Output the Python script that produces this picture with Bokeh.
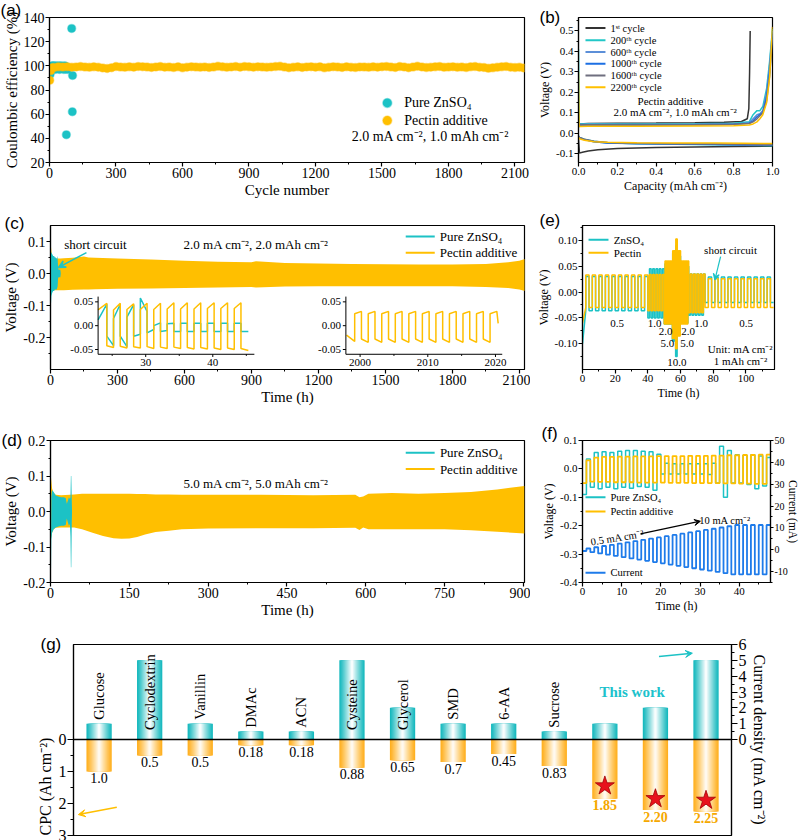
import math
from bokeh.plotting import figure
from bokeh.models import (Range1d, LinearAxis, FixedTicker, SingleIntervalTicker,
                          NumeralTickFormatter, Arrow, VeeHead, Span, Title)
from bokeh.layouts import column, row
from bokeh.embed import file_html
from bokeh.resources import INLINE
from bokeh.core.properties import value

SERIF = "Liberation Serif"
SANS = "Liberation Sans"
CYAN = "#1CC2C5"
ORANGE = "#FFBF00"
BLUE = "#1E7BEA"

# ---------------- data (a) Coulombic efficiency ----------------
a_zn_cycle = [1, 3, 6, 9, 12, 15, 18, 21, 25, 29, 33, 37, 41, 45, 49, 53, 57, 61, 65, 69, 73, 77, 80, 76, 100, 104, 103]
a_zn_ce = [94, 93, 97, 99, 100, 98, 100, 99, 97, 100, 99, 98, 100, 97, 99, 100, 98, 99, 97, 100, 98, 99, 97, 43, 131, 92, 62]
a_pec_cycle = [1, 5, 10] + list(range(20, 2141, 20))
a_pec_ce = [88, 96, 98.5,
            98.6, 99.2, 99.0, 99.3, 98.9, 99.1, 99.4, 99.0, 98.8, 99.2,
            98.9, 98.3, 97.8, 98.5, 99.4, 99.0, 98.8, 99.2, 98.9, 99.5,
            99.3, 99.0, 98.7, 99.1, 99.4, 98.9, 99.0, 98.6, 99.2, 98.4,
            98.9, 99.3, 99.0, 98.8, 99.1, 98.7, 99.0, 99.6, 99.2, 98.8,
            99.1, 99.4, 98.9, 99.5, 99.2, 98.9, 99.3, 99.0, 98.8, 99.1,
            99.4, 99.6, 99.0, 98.5, 98.8, 99.2, 98.7, 99.1, 99.3, 98.9,
            99.2, 98.4, 98.8, 99.3, 99.0, 98.7, 99.2, 98.9, 98.6, 99.1,
            99.0, 98.8, 99.2, 98.9, 99.3, 99.5, 99.0, 98.7, 99.4, 99.1,
            98.5, 99.0, 99.6, 99.1, 98.6, 98.9, 99.2, 99.5, 98.8, 99.0,
            99.3, 98.8, 99.0, 98.6, 99.2, 99.4, 98.9, 98.7, 97.9, 98.4,
            98.8, 99.2, 99.5, 98.9, 98.6, 98.9, 98.3]

# ---------------- data (b) voltage profiles ----------------
b_names = ["1ˢᵗ cycle", "200ᵗʰ cycle", "600ᵗʰ cycle", "1000ᵗʰ cycle", "1600ᵗʰ cycle", "2200ᵗʰ cycle"]
b_colors = ["#333333", "#22C7C7", "#5C8FD8", "#1C6FE3", "#6F6F7F", "#FFC000"]
b_strip_cap_1 = [0.0, 0.005, 0.05, 0.2, 0.4, 0.6, 0.75, 0.84, 0.87, 0.878, 0.882, 0.885]
b_strip_v_1 = [0.030, 0.045, 0.047, 0.048, 0.049, 0.051, 0.053, 0.057, 0.070, 0.120, 0.300, 0.500]
b_plate_cap_1 = [0.0, 0.005, 0.02, 0.05, 0.1, 0.2, 0.4, 0.6, 0.8, 1.0]
b_plate_v_1 = [-0.030, -0.098, -0.094, -0.088, -0.082, -0.076, -0.071, -0.068, -0.066, -0.064]
b_strip_cap = [0.0, 0.003, 0.05, 0.3, 0.6, 0.8, 0.88, 0.9, 0.92, 0.935, 0.95, 0.97, 0.985, 1.0]
b_strip_v = [
    [0.410, 0.045, 0.046, 0.045, 0.046, 0.048, 0.055, 0.090, 0.110, 0.110, 0.130, 0.220, 0.350, 0.510],
    [0.040, 0.042, 0.043, 0.042, 0.043, 0.045, 0.050, 0.070, 0.090, 0.095, 0.110, 0.200, 0.330, 0.500],
    [0.035, 0.040, 0.041, 0.040, 0.041, 0.043, 0.048, 0.060, 0.080, 0.090, 0.100, 0.180, 0.300, 0.480],
    [0.035, 0.040, 0.041, 0.040, 0.041, 0.043, 0.047, 0.055, 0.070, 0.085, 0.100, 0.160, 0.280, 0.460],
    [0.300, 0.032, 0.034, 0.034, 0.035, 0.036, 0.040, 0.045, 0.055, 0.070, 0.090, 0.150, 0.270, 0.520],
]
b_plate_cap = [0.0, 0.005, 0.03, 0.08, 0.15, 0.3, 0.5, 0.7, 0.85, 1.0]
b_plate_v = [
    [-0.015, -0.022, -0.030, -0.040, -0.047, -0.052, -0.055, -0.057, -0.059, -0.062],
    [-0.015, -0.022, -0.032, -0.042, -0.048, -0.052, -0.054, -0.056, -0.058, -0.060],
    [-0.015, -0.022, -0.032, -0.042, -0.048, -0.051, -0.053, -0.055, -0.057, -0.058],
    [-0.015, -0.021, -0.030, -0.040, -0.046, -0.050, -0.052, -0.054, -0.056, -0.057],
    [-0.020, -0.028, -0.035, -0.042, -0.045, -0.047, -0.048, -0.049, -0.050, -0.051],
]

# ---------------- data (c) 2 mA cm-2 long cycling (envelopes) ----------------
c_t = [0, 3, 5, 8, 15, 30, 45, 60, 100, 150, 170, 200, 300, 450, 600, 750, 900, 920, 1050, 1200, 1350, 1500, 1650, 1800, 1950, 2050, 2100, 2125]
c_top = [0.02, 0.083, 0.060, 0.050, 0.048, 0.047, 0.047, 0.048, 0.049, 0.053, 0.050, 0.049, 0.047, 0.044, 0.040, 0.037, 0.035, 0.038, 0.033, 0.031, 0.030, 0.029, 0.028, 0.028, 0.030, 0.035, 0.040, 0.045]
c_bot = [-0.02, -0.060, -0.055, -0.052, -0.052, -0.052, -0.052, -0.052, -0.051, -0.050, -0.050, -0.049, -0.048, -0.047, -0.045, -0.044, -0.042, -0.044, -0.041, -0.040, -0.040, -0.040, -0.040, -0.040, -0.042, -0.045, -0.050, -0.055]
c_zn_t = [0, 1, 2, 4, 8, 12, 16, 20, 24, 28, 30, 32, 34, 36, 40, 44, 46]
c_zn_top = [0.0, 0.060, 0.068, 0.065, 0.060, 0.055, 0.055, 0.050, 0.050, 0.045, 0.055, 0.045, 0.020, 0.012, 0.012, 0.012, 0.0]
c_zn_bot = [-0.05, -0.170, -0.100, -0.070, -0.060, -0.055, -0.055, -0.050, -0.050, -0.050, -0.045, -0.040, -0.015, -0.012, -0.012, -0.012, 0.0]
# inset 1 (23-46 h): half-cycle edges and start/end voltages
c_in1_edges = [22.9, 24.2, 25.2, 26.2, 27.2, 28.2, 29.2, 30.2, 31.2, 32.2, 33.2, 34.2, 35.2, 36.2, 37.2, 38.2, 39.2, 40.2, 41.2, 42.2, 43.2, 44.2, 45.3]
c_in1_pec_s = [0.033, -0.042, 0.033, -0.043, 0.034, -0.044, 0.034, -0.044, 0.034, -0.045, 0.035, -0.045, 0.035, -0.046, 0.035, -0.046, 0.036, -0.047, 0.036, -0.047, 0.036, -0.048]
c_in1_pec_e = [0.047, -0.046, 0.047, -0.047, 0.046, -0.047, 0.047, -0.048, 0.047, -0.048, 0.048, -0.048, 0.048, -0.049, 0.048, -0.049, 0.048, -0.050, 0.048, -0.050, 0.048, -0.052]
c_in1_zn_s = [0.012, -0.022, 0.015, -0.022, 0.018, -0.022, 0.058, -0.015, 0.000, -0.012, 0.004, -0.012, 0.005, -0.012, 0.005, -0.012, 0.005, -0.012, 0.005, -0.012, 0.005, -0.012]
c_in1_zn_e = [0.045, -0.042, 0.045, -0.044, 0.044, -0.018, 0.030, -0.008, 0.006, -0.010, 0.005, -0.012, 0.005, -0.012, 0.005, -0.012, 0.005, -0.012, 0.005, -0.012, 0.005, -0.012]
# inset 2 (1998-2021 h)
c_in2_edges = [1998.0, 1999.2, 2000.2, 2001.2, 2002.2, 2003.2, 2004.2, 2005.2, 2006.2, 2007.2, 2008.2, 2009.2, 2010.2, 2011.2, 2012.2, 2013.2, 2014.2, 2015.2, 2016.2, 2017.2, 2018.2, 2019.2, 2020.2, 2020.4]
c_in2_pec_s = [-0.020, 0.025, -0.028, 0.025, -0.028, 0.025, -0.028, 0.025, -0.028, 0.025, -0.028, 0.025, -0.028, 0.025, -0.028, 0.025, -0.028, 0.025, -0.028, 0.025, -0.028, 0.025, 0.030]
c_in2_pec_e = [-0.033, 0.030, -0.035, 0.030, -0.035, 0.030, -0.035, 0.030, -0.035, 0.030, -0.035, 0.030, -0.035, 0.030, -0.035, 0.030, -0.035, 0.030, -0.035, 0.030, -0.035, 0.030, 0.005]

# ---------------- data (d) 5 mA cm-2 (envelopes) ----------------
d_t = [0, 1, 3, 6, 10, 20, 45, 60, 80, 100, 120, 135, 150, 165, 180, 200, 225, 250, 300, 400, 500, 580, 588, 595, 605, 650, 700, 750, 800, 850, 902]
d_top = [0.02, 0.095, 0.065, 0.052, 0.047, 0.046, 0.048, 0.050, 0.050, 0.050, 0.050, 0.050, 0.050, 0.049, 0.049, 0.048, 0.048, 0.047, 0.047, 0.047, 0.046, 0.047, 0.040, 0.042, 0.050, 0.052, 0.050, 0.052, 0.055, 0.062, 0.072]
d_bot = [-0.02, -0.075, -0.060, -0.050, -0.046, -0.045, -0.045, -0.050, -0.060, -0.069, -0.075, -0.077, -0.076, -0.072, -0.065, -0.058, -0.054, -0.050, -0.048, -0.047, -0.047, -0.046, -0.052, -0.045, -0.050, -0.050, -0.050, -0.050, -0.053, -0.057, -0.062]
d_zn_t = [0, 0.8, 1.5, 3, 6, 10, 15, 20, 25, 29, 31, 33, 35, 37, 38, 38.8, 39.6, 40.5, 41]
d_zn_top = [-0.2, -0.1, 0.04, 0.06, 0.055, 0.045, 0.042, 0.040, 0.040, 0.038, 0.022, 0.030, 0.040, 0.035, 0.040, 0.100, 0.100, 0.030, 0.0]
d_zn_bot = [-0.2, -0.2, -0.08, -0.06, -0.05, -0.045, -0.042, -0.040, -0.040, -0.038, -0.020, -0.030, -0.040, -0.035, -0.070, -0.157, -0.157, -0.030, 0.0]

# ---------------- data (e) rate test ----------------
e_rate = [0.5, 1.0, 2.0, 5.0, 10.0, 5.0, 2.0, 1.0, 0.5]
e_rate_lbl = ["0.5", "1.0", "2.0", "5.0", "10.0", "5.0", "2.0", "1.0", "0.5"]
e_halves = [20, 10, 10, 10, 10, 10, 10, 10, 21]
e_pec_pos = [0.033, 0.034, 0.060, 0.080, 0.103, 0.080, 0.060, 0.035, 0.026]
e_pec_neg = [-0.030, -0.036, -0.062, -0.090, -0.110, -0.085, -0.062, -0.040, -0.030]
e_zn_pos = [0.030, 0.045, 0.055, 0.075, 0.090, 0.070, 0.050, 0.035, 0.029]
e_zn_neg = [-0.036, -0.050, -0.062, -0.095, -0.125, -0.080, -0.060, -0.045, -0.020]
e_pec_v0 = -0.060
e_zn_v0 = -0.100

# ---------------- data (f) increasing current ----------------
f_cur_ma = [0.57, 1.13, 1.70, 2.26, 2.83, 3.39, 3.96, 4.52, 5.09, 5.65, 6.22, 6.79, 7.35, 7.92, 8.48, 9.05, 9.61, 10.18, 10.74, 11.31, 11.31, 11.31, 11.31, 11.31]
f_pec_pos = [0.030, 0.040, 0.042, 0.042, 0.043, 0.043, 0.044, 0.044, 0.044, 0.045, 0.045, 0.045, 0.045, 0.046, 0.046, 0.046, 0.047, 0.047, 0.048, 0.048, 0.049, 0.049, 0.050, 0.050]
f_pec_neg = [-0.050, -0.045, -0.046, -0.046, -0.047, -0.047, -0.047, -0.048, -0.048, -0.048, -0.048, -0.049, -0.049, -0.049, -0.050, -0.050, -0.050, -0.050, -0.051, -0.051, -0.052, -0.052, -0.053, -0.053]
f_zn_pos = [0.035, 0.058, 0.060, 0.058, 0.062, 0.065, 0.065, 0.062, 0.060, 0.052, 0.020, 0.018, 0.018, 0.018, 0.018, 0.018, 0.020, 0.080, 0.065, 0.050, 0.048, 0.050, 0.045, 0.040]
f_zn_neg = [-0.090, -0.065, -0.070, -0.065, -0.070, -0.065, -0.068, -0.062, -0.065, -0.075, -0.018, -0.018, -0.018, -0.018, -0.018, -0.018, -0.020, -0.050, -0.100, -0.050, -0.050, -0.055, -0.070, -0.060]

# ---------------- data (g) comparison ----------------
g_names = ["Glucose", "Cyclodextrin", "Vanillin", "DMAc", "ACN", "Cysteine", "Glycerol", "SMD", "6-AA", "Sucrose", "", "", ""]
g_cd = [1, 5, 1, 0.5, 0.5, 5, 2, 1, 1, 0.5, 1, 2, 5]
g_cpc = [1.0, 0.5, 0.5, 0.18, 0.18, 0.88, 0.65, 0.7, 0.45, 0.83, 1.85, 2.20, 2.25]
g_cpc_txt = ["1.0", "0.5", "0.5", "0.18", "0.18", "0.88", "0.65", "0.7", "0.45", "0.83", "1.85", "2.20", "2.25"]
g_this = [False] * 10 + [True] * 3
g_star_cpc = [1.45, 1.85, 1.90]


# ================= helpers =================
def mkfig(w, h, xr, yr, bl, br, bt, bb, **kw):
    p = figure(width=w, height=h, x_range=Range1d(*xr), y_range=Range1d(*yr),
               output_backend="svg", toolbar_location=None, title=None,
               min_border_left=bl, min_border_right=br, min_border_top=bt,
               min_border_bottom=bb, **kw)
    p.xgrid.visible = False
    p.ygrid.visible = False
    p.outline_line_color = "black"
    p.outline_line_width = 1.2
    p.outline_line_alpha = 1.0
    return p


def sty(ax, tick_fs, lab_fs, tick_out=4):
    ax.axis_line_color = "black"
    ax.axis_line_width = 1.2
    ax.major_tick_line_color = "black"
    ax.major_tick_line_width = 1.2
    ax.minor_tick_line_color = "black"
    ax.minor_tick_line_width = 1.0
    ax.major_tick_in = 0
    ax.major_tick_out = tick_out
    ax.minor_tick_in = 0
    ax.minor_tick_out = 2
    ax.major_label_text_font = SERIF
    ax.major_label_text_font_size = f"{tick_fs}px"
    ax.major_label_text_color = "black"
    ax.axis_label_text_font = SERIF
    ax.axis_label_text_font_size = f"{lab_fs}px"
    ax.axis_label_text_font_style = "normal"
    ax.axis_label_text_color = "black"
    ax.major_label_standoff = 1
    ax.axis_label_standoff = 1


def txt(p, x, y, s, size, align="left", baseline="middle", color="black",
        style="normal", angle=0.0, font=SERIF, **kw):
    p.text(x=[x], y=[y], text=[s], text_font=value(font), text_font_size=value(f"{size}px"),
           text_align=align, text_baseline=baseline, text_color=color,
           text_font_style=style, angle=angle, **kw)


def panel_label(p, s, dx, frame_top, want_bottom):
    so = -2 * (want_bottom - frame_top)
    so = min(max(so, -18), -4)
    p.add_layout(Title(text=s, align="left", offset=dx, standoff=so, vertical_align="bottom",
                       text_font=SANS, text_font_size="17px", text_font_style="normal",
                       text_color="black"), "above")


def halfwave(edges, vstart, vend):
    xs, ys = [], []
    for i in range(len(vstart)):
        xs += [edges[i], edges[i + 1]]
        ys += [vstart[i], vend[i]]
    return xs, ys


def rate_wave(rates, halves, pos, neg, v0, cap=1.0):
    xs, ys = [], []
    t = 0.0
    for r, n, vp, vn in zip(rates, halves, pos, neg):
        dt = cap / r
        for k in range(n):
            v = vn if k % 2 == 0 else vp
            ys += [v0 if not xs else v, v]
            xs += [t, t + dt]
            t += dt
    return xs, ys


def cycle_wave(neg, pos, half=1.0):
    xs, ys = [], []
    t = 0.0
    for vn, vp in zip(neg, pos):
        for v in (vn, vp):
            xs += [t, t + half]
            ys += [v, v]
            t += half
    return xs, ys


def inset_axes(sub, x0, x1, y0, y1, xmaj, xmin, ymaj, dx, dy, xfmt, yfmt):
    sub.line([x0, x0, x1], [y1, y0, y0], line_color="black", line_width=1.0)
    sub.segment(x0=xmaj, y0=[y0] * len(xmaj), x1=xmaj, y1=[y0 - dy] * len(xmaj), line_color="black", line_width=1.0)
    sub.segment(x0=xmin, y0=[y0] * len(xmin), x1=xmin, y1=[y0 - dy * 0.6] * len(xmin), line_color="black", line_width=1.0)
    sub.segment(x0=[x0] * len(ymaj), y0=ymaj, x1=[x0 - dx] * len(ymaj), y1=ymaj, line_color="black", line_width=1.0)
    sub.text(x=xmaj, y=[y0 - dy * 1.6] * len(xmaj), text=[xfmt(v) for v in xmaj],
             text_font=value(SERIF), text_font_size=value("11px"), text_align="center", text_baseline="top")
    sub.text(x=[x0 - dx * 1.6] * len(ymaj), y=ymaj, text=[yfmt(v) for v in ymaj],
             text_font=value(SERIF), text_font_size=value("11px"), text_align="right", text_baseline="middle")


# ================= (a) =================
pa = mkfig(530, 210, (0, 2143), (20, 140), 49, 6, 16, 43)
pa.xaxis.ticker = SingleIntervalTicker(interval=300, num_minor_ticks=2)
pa.yaxis.ticker = SingleIntervalTicker(interval=20, num_minor_ticks=2)
pa.xaxis.axis_label = "Cycle number"
pa.yaxis.axis_label = "Coulombic efficiency (%)"
for ax in pa.axis:
    sty(ax, 14, 15)
pa.scatter(a_zn_cycle, a_zn_ce, size=8, fill_color=CYAN, line_color=CYAN, line_alpha=0.4, line_width=1.5)
pa.scatter(a_pec_cycle, a_pec_ce, size=8, fill_color=ORANGE, line_color=ORANGE, line_alpha=0.4, line_width=1.5)
pa.scatter([1524], [69.3], size=9, fill_color=CYAN, line_color=CYAN, line_alpha=0.4, line_width=1.5)
pa.scatter([1524], [54.7], size=9, fill_color=ORANGE, line_color=ORANGE, line_alpha=0.4, line_width=1.5)
txt(pa, 1600, 69.3, "Pure ZnSO₄", 14)
txt(pa, 1600, 54.7, "Pectin additive", 14)
txt(pa, 1719, 41.5, "2.0 mA cm⁻², 1.0 mAh cm⁻²", 14, align="center")
panel_label(pa, "(a)", -49, 16, 18)

# ================= (b) =================
pb = mkfig(270, 210, (0, 1.0), (-0.144, 0.566), 48, 28, 16, 48)
pb.xaxis.ticker = FixedTicker(ticks=[0, 0.2, 0.4, 0.6, 0.8, 1.0], minor_ticks=[0.1, 0.3, 0.5, 0.7, 0.9])
pb.yaxis.ticker = FixedTicker(ticks=[-0.1, 0, 0.1, 0.2, 0.3, 0.4, 0.5],
                              minor_ticks=[-0.05, 0.05, 0.15, 0.25, 0.35, 0.45, 0.55])
pb.xaxis.formatter = NumeralTickFormatter(format="0.0")
pb.yaxis.formatter = NumeralTickFormatter(format="0.0")
pb.xaxis.axis_label = "Capacity (mAh cm⁻²)"
pb.yaxis.axis_label = "Voltage (V)"
for ax in pb.axis:
    sty(ax, 11, 12)
pb.line(b_plate_cap_1, b_plate_v_1, line_color=b_colors[0], line_width=1.5)
pb.line(b_strip_cap_1, b_strip_v_1, line_color=b_colors[0], line_width=1.5)
for i in range(5):
    pb.line(b_plate_cap, b_plate_v[i], line_color=b_colors[i + 1], line_width=1.5)
    pb.line(b_strip_cap, b_strip_v[i], line_color=b_colors[i + 1], line_width=1.5)
b_leg_y = [0.514, 0.454, 0.397, 0.339, 0.282, 0.225]
for i in range(6):
    pb.line([0.036, 0.139], [b_leg_y[i]] * 2, line_color=b_colors[i], line_width=2)
    txt(pb, 0.165, b_leg_y[i], b_names[i], 10.5)
txt(pb, 0.474, 0.157, "Pectin additive", 11, align="center")
txt(pb, 0.50, 0.104, "2.0 mA cm⁻², 1.0 mAh cm⁻²", 11, align="center")
panel_label(pb, "(b)", -39, 16, 31)

# ================= (c) =================
pc = mkfig(530, 210, (0, 2123), (-0.3, 0.15), 49, 6, 12, 40)
pc.xaxis.ticker = SingleIntervalTicker(interval=300, num_minor_ticks=2)
pc.yaxis.ticker = SingleIntervalTicker(interval=0.1, num_minor_ticks=2)
pc.yaxis.formatter = NumeralTickFormatter(format="0.0")
pc.xaxis.axis_label = "Time (h)"
pc.yaxis.axis_label = "Voltage (V)"
for ax in pc.axis:
    sty(ax, 14, 15)
pc.varea(x=c_t, y1=c_bot, y2=c_top, fill_color=ORANGE)
pc.varea(x=c_zn_t, y1=c_zn_bot, y2=c_zn_top, fill_color=CYAN)
pc.line([1591, 1721], [0.1158, 0.1158], line_color=CYAN, line_width=2)
pc.line([1591, 1721], [0.0646, 0.0646], line_color=ORANGE, line_width=2)
txt(pc, 1743, 0.1158, "Pure ZnSO₄", 13)
txt(pc, 1743, 0.0646, "Pectin additive", 13)
txt(pc, 921, 0.090, "2.0 mA cm⁻², 2.0 mAh cm⁻²", 13, align="center")
txt(pc, 201, 0.091, "short circuit", 13, align="center")
pc.add_layout(Arrow(end=VeeHead(size=7, line_color=CYAN, fill_color=CYAN, line_width=1.5),
                    x_start=161, y_start=0.0654, x_end=36, y_end=0.019,
                    line_color=CYAN, line_width=1.5))
# inset 1
s1 = pc.subplot(x_source=Range1d(22.9, 46.2), y_source=Range1d(-0.06, 0.061),
                x_target=Range1d(213.2, 913.1), y_target=Range1d(-0.2524, -0.0722))
xs, ys = halfwave(c_in1_edges, c_in1_zn_s, c_in1_zn_e)
s1.line(xs, ys, line_color=CYAN, line_width=1.5)
xs, ys = halfwave(c_in1_edges, c_in1_pec_s, c_in1_pec_e)
s1.line(xs, ys, line_color=ORANGE, line_width=1.5)
inset_axes(s1, 22.9, 46.2, -0.06, 0.061, [30, 40], [25, 35, 45], [-0.05, 0.0, 0.05],
           0.45, 0.0057, lambda v: f"{v:.0f}", lambda v: f"{v:.2f}")
# inset 2
s2 = pc.subplot(x_source=Range1d(1997.9, 2021.0), y_source=Range1d(-0.06, 0.061),
                x_target=Range1d(1323.0, 2023.3), y_target=Range1d(-0.2524, -0.0722))
xs, ys = halfwave(c_in2_edges, c_in2_pec_s, c_in2_pec_e)
s2.line(xs, ys, line_color=ORANGE, line_width=1.5)
inset_axes(s2, 1997.9, 2021.0, -0.06, 0.061, [2000, 2010, 2020], [2005, 2015], [-0.05, 0.0, 0.05],
           0.45, 0.0057, lambda v: f"{v:.0f}", lambda v: f"{v:.2f}")
panel_label(pc, "(c)", -46, 12, 19)

# ================= (e) =================
pe = mkfig(270, 210, (0, 117.5), (-0.15, 0.129), 52, 26, 15, 51)
pe.xaxis.ticker = SingleIntervalTicker(interval=20, num_minor_ticks=2)
pe.yaxis.ticker = SingleIntervalTicker(interval=0.05, num_minor_ticks=2)
pe.yaxis.formatter = NumeralTickFormatter(format="0.00")
pe.xaxis.axis_label = "Time (h)"
pe.yaxis.axis_label = "Voltage (V)"
for ax in pe.axis:
    sty(ax, 11, 12)
xs, ys = rate_wave(e_rate, e_halves, e_zn_pos, e_zn_neg, e_zn_v0)
pe.line(xs, ys, line_color=CYAN, line_width=1.5)
xs, ys = rate_wave(e_rate, e_halves, e_pec_pos, e_pec_neg, e_pec_v0)
pe.line(xs, ys, line_color=ORANGE, line_width=1.5)
pe.line([3.7, 15.9], [0.1013, 0.1013], line_color=CYAN, line_width=2)
pe.line([3.7, 15.9], [0.0761, 0.0761], line_color=ORANGE, line_width=2)
txt(pe, 19.2, 0.1013, "ZnSO₄", 11)
txt(pe, 19.2, 0.0761, "Pectin", 11)
e_lbl_t = [21.2, 44.2, 50.8, 52.0, 57.8, 64.1, 64.6, 72.6, 100.2]
e_lbl_v = [-0.0603, -0.0603, -0.0764, -0.1002, -0.137, -0.1002, -0.0764, -0.0603, -0.0603]
for t, v, s in zip(e_lbl_t, e_lbl_v, e_rate_lbl):
    txt(pe, t, v, s, 11, align="center")
txt(pe, 90.6, 0.0806, "short circuit", 11, align="center")
pe.add_layout(Arrow(end=VeeHead(size=6, line_color=CYAN, fill_color=CYAN, line_width=1.2),
                    x_start=84.5, y_start=0.0689, x_end=81.0, y_end=0.0238,
                    line_color=CYAN, line_width=1.2))
txt(pe, 96.7, -0.110, "Unit: mA cm⁻²", 11, align="center")
txt(pe, 96.7, -0.1326, "1 mAh cm⁻²", 11, align="center")
panel_label(pe, "(e)", -43, 15, 19)

# ================= (d) =================
pd_ = mkfig(530, 215, (0, 902), (-0.2, 0.2), 49, 6, 13, 43)
pd_.xaxis.ticker = SingleIntervalTicker(interval=150, num_minor_ticks=2)
pd_.yaxis.ticker = SingleIntervalTicker(interval=0.1, num_minor_ticks=2)
pd_.yaxis.formatter = NumeralTickFormatter(format="0.0")
pd_.xaxis.axis_label = "Time (h)"
pd_.yaxis.axis_label = "Voltage (V)"
for ax in pd_.axis:
    sty(ax, 14, 15)
pd_.varea(x=d_t, y1=d_bot, y2=d_top, fill_color=ORANGE)
pd_.varea(x=d_zn_t, y1=d_zn_bot, y2=d_zn_top, fill_color=CYAN)
pd_.line([676, 731], [0.1655, 0.1655], line_color=CYAN, line_width=2)
pd_.line([676, 731], [0.1195, 0.1195], line_color=ORANGE, line_width=2)
txt(pd_, 741, 0.1655, "Pure ZnSO₄", 13)
txt(pd_, 741, 0.1195, "Pectin additive", 13)
txt(pd_, 391, 0.0792, "5.0 mA cm⁻², 5.0 mAh cm⁻²", 13, align="center")
panel_label(pd_, "(d)", -49, 13, 25)

# ================= (f) =================
pf = mkfig(270, 215, (0, 48.0), (-0.4, 0.1), 52, 30, 20, 53)
pf.extra_y_ranges = {"cur": Range1d(-15, 50)}
pf.xaxis.ticker = SingleIntervalTicker(interval=10, num_minor_ticks=2)
pf.yaxis.ticker = SingleIntervalTicker(interval=0.1, num_minor_ticks=2)
pf.yaxis.formatter = NumeralTickFormatter(format="0.0")
pf.xaxis.axis_label = "Time (h)"
pf.yaxis.axis_label = "Voltage (V)"
rax = LinearAxis(y_range_name="cur", ticker=SingleIntervalTicker(interval=10, num_minor_ticks=2),
                 formatter=NumeralTickFormatter(format="0"))
pf.add_layout(rax, "right")
for ax in pf.axis:
    sty(ax, 11, 12)
sty(rax, 10, 11, tick_out=3)
pf.add_layout(Title(text="Current (mA)", align="center", vertical_align="bottom", standoff=-8,
                    text_font=SERIF, text_font_size="11.5px", text_font_style="normal",
                    text_color="black"), "right")
xs, ys = cycle_wave(f_zn_neg, f_zn_pos)
pf.line(xs, ys, line_color=CYAN, line_width=1.5)
xs, ys = cycle_wave(f_pec_neg, f_pec_pos)
pf.line(xs, ys, line_color=ORANGE, line_width=1.8)
xs, ys = cycle_wave([-c for c in f_cur_ma], f_cur_ma)
pf.line(xs, ys, line_color=BLUE, line_width=1.8, y_range_name="cur")
pf.line([0.77, 5.87], [-0.0996, -0.0996], line_color=CYAN, line_width=2)
pf.line([0.77, 5.87], [-0.150, -0.150], line_color=ORANGE, line_width=2)
pf.line([0.77, 5.87], [-0.3658, -0.3658], line_color=BLUE, line_width=2)
txt(pf, 7.15, -0.0996, "Pure ZnSO₄", 10.5)
txt(pf, 7.15, -0.150, "Pectin additive", 10.5)
txt(pf, 7.15, -0.3658, "Current", 10.5)
txt(pf, 8.94, -0.2426, "0.5 mA cm⁻²", 10.5, align="center", angle=0.16)
txt(pf, 36.4, -0.1817, "10 mA cm⁻²", 10.5, align="center")
pf.add_layout(Arrow(end=VeeHead(size=6, line_color="black", fill_color="black"),
                    x_start=14.8, y_start=-0.2285, x_end=30.1, y_end=-0.1842,
                    line_color="black", line_width=1.3))
panel_label(pf, "(f)", -41, 20, 21)

# ================= (g) =================
pg = mkfig(800, 205, (-0.506, 12.504), (-6.06, 6), 73, 69, 9, 5,
           x_axis_location=None, y_axis_location="right")
pg.extra_y_ranges = {"cpc": Range1d(start=3, end=-2.97)}
pg.yaxis.ticker = FixedTicker(ticks=[0, 1, 2, 3, 4, 5, 6], minor_ticks=[0.5, 1.5, 2.5, 3.5, 4.5, 5.5])
pg.yaxis.axis_label = "Current density (mA cm⁻²)"
lax = LinearAxis(y_range_name="cpc", ticker=FixedTicker(ticks=[0, 1, 2, 3], minor_ticks=[0.5, 1.5, 2.5]))
pg.add_layout(lax, "left")
for ax in pg.axis:
    sty(ax, 16, 16, tick_out=6)
    ax.minor_tick_out = 3
pg.add_layout(Title(text="CPC (Ah cm⁻²)", align="left", offset=0, vertical_align="middle", standoff=2,
                    text_font=SERIF, text_font_size="16px", text_font_style="normal",
                    text_color="black"), "left")
g_x = list(range(len(g_cd)))


def mix(c1, c2, f):
    a = [int(c1[i:i + 2], 16) for i in (1, 3, 5)]
    b = [int(c2[i:i + 2], 16) for i in (1, 3, 5)]
    return "#" + "".join(f"{int(round(a[k] + (b[k] - a[k]) * f)):02x}" for k in range(3))


NL = 12
for k in range(NL):
    f = k / (NL - 1)
    w = 0.5 * (1 - k / NL)
    pg.vbar(x=g_x, width=w, top=g_cd, bottom=0, fill_color=mix("#17B9BE", "#FFFFFF", f ** 1.1 * 0.97),
            line_color=None)
    pg.vbar(x=g_x, width=w, top=0, bottom=g_cpc, y_range_name="cpc",
            fill_color=mix("#FFB020", "#FFFFFF", f ** 1.1 * 0.93), line_color=None)
pg.add_layout(Span(location=0, dimension="width", line_color="black", line_width=1.5))
lab_y = [v + 0.25 if v <= 1 else 0.6 for v in g_cd]
pg.text(x=g_x[:10], y=lab_y[:10], text=g_names[:10], angle=math.pi / 2,
        text_font=value(SERIF), text_font_size=value("14.5px"), text_align="left", text_baseline="middle")
other = [i for i in g_x if not g_this[i]]
mine = [i for i in g_x if g_this[i]]
pg.text(x=other, y=[g_cpc[i] + 0.05 for i in other], text=[g_cpc_txt[i] for i in other], y_range_name="cpc",
        text_font=value(SERIF), text_font_size=value("14px"), text_align="center", text_baseline="top")
pg.text(x=mine, y=[g_cpc[i] + 0.05 for i in mine], text=[g_cpc_txt[i] for i in mine], y_range_name="cpc",
        text_font=value(SERIF), text_font_size=value("14px"), text_font_style="bold",
        text_color="#F5A800", text_align="center", text_baseline="top")
pg.scatter(x=mine, y=g_star_cpc, y_range_name="cpc", marker="star", size=20,
           fill_color="#E8121C", line_color="#A00000", line_width=0.8)
txt(pg, 10.54, 2.99, "This work", 15, align="center", color="#1CC2CC", style="bold")
pg.add_layout(Arrow(end=VeeHead(size=7, line_color=CYAN, fill_color=CYAN),
                    x_start=11.07, y_start=5.24, x_end=11.73, y_end=5.45, line_color=CYAN, line_width=1.5))
pg.add_layout(Arrow(end=VeeHead(size=7, line_color=ORANGE, fill_color=ORANGE),
                    x_start=0.35, y_start=-4.28, x_end=-0.41, y_end=-4.74, line_color=ORANGE, line_width=1.5))
panel_label(pg, "(g)", -33, 9, 23)

layout = column(row(pa, pb), row(pc, pe), row(pd_, pf), pg)
open("out.html", "w").write(file_html(layout, INLINE))
